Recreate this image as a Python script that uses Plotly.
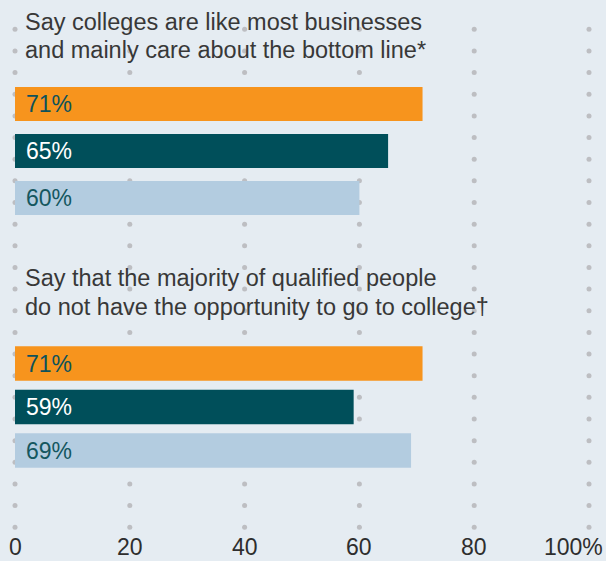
import plotly.graph_objects as go

# ---- data -------------------------------------------------------------
statements = [
    ["Say colleges are like most businesses",
     "and mainly care about the bottom line*"],
    ["Say that the majority of qualified people",
     "do not have the opportunity to go to college\u2020"],
]
series_names = ["Series 1", "Series 2", "Series 3"]
series_1 = [71, 71]
series_2 = [65, 59]
series_3 = [60, 69]
tick_values = [0, 20, 40, 60, 80, 100]
tick_labels = ["0", "20", "40", "60", "80", "100%"]

# ---- styling / layout constants ----------------------------------------
W, H = 606, 561
BG = "#e5ecf2"
BAR_COLORS = ["#f7941d", "#004f5a", "#b3cce0"]
LABEL_COLORS = ["#0d525c", "#ffffff", "#15575f"]
DOT_COLOR = "#bdbec2"
TEXT_COLOR = "#383838"
FONT = "Liberation Sans"
TITLE_SIZE = 23.5
TICK_SIZE = 23

# vertical layout of the bar groups (pixel centre of first bar, pitch, bar height)
group_geom = [(104.0, 47.0, 34.0), (363.5, 43.5, 34.5)]
# baselines of the two title lines of each group
title_baselines = [(31.5, 59.0), (287.5, 316.0)]
tick_baseline = 556.0
dot_row_first, dot_row_pitch, dot_rows = 29.3, 21.65, 24

series = [series_1, series_2, series_3]

fig = go.Figure()

# dotted vertical guides, one column of dots per tick value
dot_x, dot_y = [], []
for r in range(dot_rows):
    for t in tick_values:
        dot_x.append(t)
        dot_y.append(dot_row_first + r * dot_row_pitch)
fig.add_trace(go.Scatter(
    x=dot_x, y=dot_y, mode="markers", xaxis="x", yaxis="y",
    marker=dict(size=5, color=DOT_COLOR), cliponaxis=False,
    hoverinfo="skip", showlegend=False,
))

annotations = []
for g, (c0, pitch, bh) in enumerate(group_geom):
    yname = f"y{g + 2}"
    vals = [s[g] for s in series]
    fig.add_trace(go.Bar(
        x=vals, y=series_names, orientation="h", xaxis="x", yaxis=yname,
        width=bh / pitch, marker=dict(color=BAR_COLORS, line=dict(width=0)),
        hoverinfo="skip", showlegend=False,
    ))
    # categorical range so that category k sits at c0 + k * pitch pixels
    lo = (0 - c0) / pitch
    hi = (H - c0) / pitch
    fig.update_layout(**{
        f"yaxis{g + 2}": dict(
            overlaying="y", range=[hi, lo], visible=False,
            categoryorder="array", categoryarray=series_names, fixedrange=True,
        )
    })
    for k, v in enumerate(vals):
        annotations.append(dict(
            x=0, y=series_names[k], xref="x", yref=yname,
            text=f"{v}%", showarrow=False, xanchor="left", yanchor="middle",
            xshift=9, font=dict(family=FONT, size=23, color=LABEL_COLORS[k]),
        ))
    # statement heading, one annotation per line, anchored near its baseline
    for line, base in zip(statements[g], title_baselines[g]):
        annotations.append(dict(
            x=0, y=base + 1 + 0.212 * TITLE_SIZE, xref="x", yref="y", text=line,
            showarrow=False, xanchor="left", yanchor="bottom", align="left",
            xshift=8, font=dict(family=FONT, size=TITLE_SIZE, color=TEXT_COLOR),
        ))

# axis labels along the bottom
for t, lab in zip(tick_values, tick_labels):
    last = t == tick_values[-1]
    annotations.append(dict(
        x=t, y=tick_baseline + 0.212 * TICK_SIZE, xref="x", yref="y",
        text=lab, showarrow=False, borderpad=0,
        xanchor="right" if last else "center", yanchor="bottom",
        xshift=15 if last else 0,
        font=dict(family=FONT, size=TICK_SIZE, color="#2e2e2e"),
    ))

fig.update_layout(
    width=W, height=H,
    margin=dict(l=15, r=17, t=0, b=0),
    paper_bgcolor=BG, plot_bgcolor=BG,
    xaxis=dict(range=[0, 100], visible=False, fixedrange=True),
    yaxis=dict(range=[H, 0], visible=False, fixedrange=True),
    annotations=annotations,
    showlegend=False,
)

fig.write_html("out.html")
